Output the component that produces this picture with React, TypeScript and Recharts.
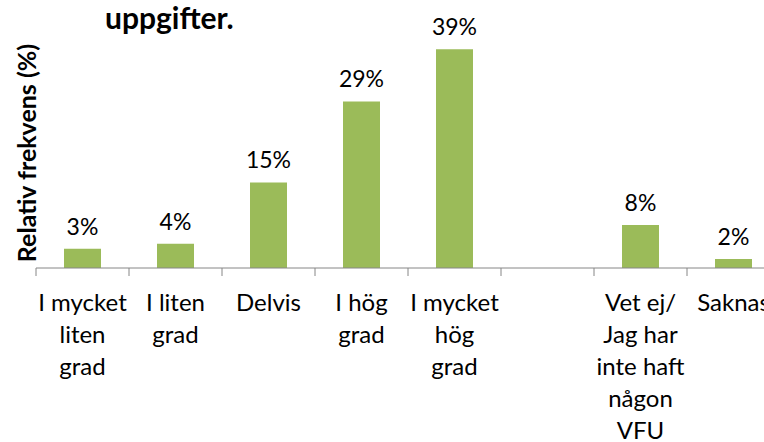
import React from "react"
import { BarChart, Bar, XAxis, YAxis, LabelList } from "recharts"

// categories (explicit line breaks as in the original axis labels)
const CATEGORIES = [
  "I mycket\nliten\ngrad",
  "I liten\ngrad",
  "Delvis",
  "I hög\ngrad",
  "I mycket\nhög\ngrad",
  "",
  "Vet ej/\nJag har\ninte haft\nnågon\nVFU",
  "Saknas",
]
const VALUES: (number | null)[] = [3.4, 4.3, 15.1, 29.4, 38.6, null, 7.6, 1.6]
const Y_DOMAIN: [number, number] = [0, 45]

const GREEN = "#9BBB59"
const AXIS_GRAY = "#868686"
const FONT = "Lato, 'Open Sans', sans-serif"

const data = CATEGORIES.map((name, i) => ({ name, value: VALUES[i] }))

function CategoryTick(props: any) {
  const { x, y, payload } = props
  const half = payload && payload.offset ? payload.offset : 46.5
  const lines = String(payload.value).split("\n")
  return (
    <g>
      <line x1={x - half} y1={y - 8} x2={x - half} y2={y} stroke={AXIS_GRAY} strokeWidth={1} />
      <text x={x} y={y} textAnchor="middle" fill="#000" fontFamily={FONT} fontSize={24}>
        {lines.map((l, i) => (
          <tspan key={i} x={x} dy={i === 0 ? 35 : 32}>
            {l}
          </tspan>
        ))}
      </text>
    </g>
  )
}

export default function App() {
  return (
    <div
      style={{
        position: "fixed",
        left: 0,
        top: 0,
        width: 764,
        height: 442,
        overflow: "hidden",
        background: "#fff",
      }}
    >
      <BarChart
        width={800}
        height={442}
        data={data}
        margin={{ top: 13, right: 20, left: 36, bottom: 24 }}
        barCategoryGap="30%"
      >
        <XAxis
          dataKey="name"
          interval={0}
          height={150}
          axisLine={{ stroke: AXIS_GRAY }}
          tickLine={false}
          tick={<CategoryTick />}
          tickSize={8}
          tickMargin={0}
          allowDuplicatedCategory={false}
        />
        <YAxis hide domain={Y_DOMAIN} />
        <Bar dataKey="value" fill={GREEN} barSize={37} isAnimationActive={false}>
          <LabelList
            dataKey="value"
            position="top"
            offset={14}
            fill="#000"
            fontFamily={FONT}
            fontSize={23}
            formatter={(v: any) => (v == null ? "" : `${Math.round(v)}%`)}
          />
        </Bar>
      </BarChart>
      <div
        style={{
          position: "absolute",
          left: 105,
          top: 1,
          fontFamily: FONT,
          fontWeight: 700,
          fontSize: 30,
          color: "#000",
          lineHeight: "32px",
        }}
      >
        uppgifter.
      </div>
      <div
        style={{
          position: "absolute",
          left: 26,
          top: 153,
          transform: "translate(-50%, -50%) rotate(-90deg)",
          whiteSpace: "nowrap",
          fontFamily: FONT,
          fontWeight: 700,
          fontSize: 25,
          color: "#000",
        }}
      >
        Relativ frekvens (%)
      </div>
    </div>
  )
}
